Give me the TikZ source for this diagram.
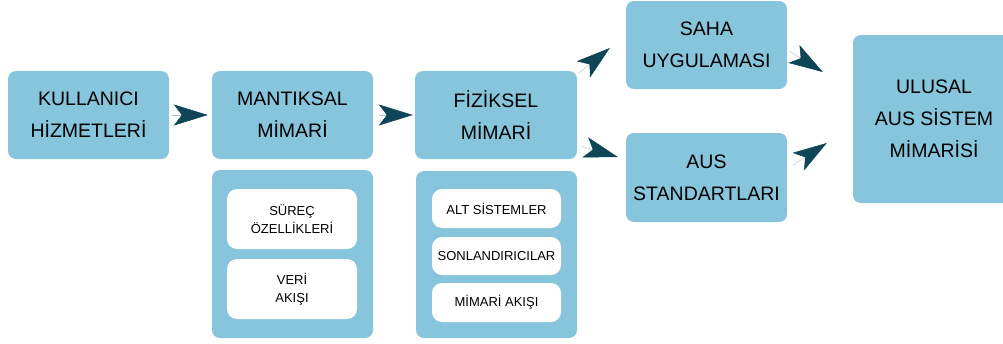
\documentclass[tikz,border=0pt]{standalone}
\usepackage{fontspec}
\setmainfont{Liberation Sans}
\usetikzlibrary{arrows.meta,calc}
\definecolor{boxblue}{HTML}{86C5DB}
\definecolor{arrowteal}{HTML}{0E4658}
\definecolor{shaftgray}{HTML}{B8C4C8}
\tikzset{
  mainbox/.style={fill=boxblue, draw=none, rounded corners=8pt, align=center,
    inner sep=0pt, font=\fontsize{19.5}{32}\selectfont},
  panel/.style={fill=boxblue, draw=none, rounded corners=8pt, inner sep=0pt},
  itembox/.style={fill=white, draw=none, rounded corners=10pt, align=center,
    inner sep=0pt, font=\fontsize{13}{18.3}\selectfont},
  flow/.style={draw=shaftgray, line width=0.5pt,
    -{Stealth[length=34pt, width=21pt, inset=8pt, color=arrowteal]}},
}
\begin{document}
\begin{tikzpicture}[x=1pt, y=-1pt]
  \useasboundingbox (0,0) rectangle (1003,343);

  % top row of process boxes
  \node[mainbox, minimum width=161pt, minimum height=88pt] (kh) at (88.5,115)
    {KULLANICI\\HİZMETLERİ};
  \node[mainbox, minimum width=161pt, minimum height=88pt] (mm) at (292.5,115)
    {MANTIKSAL\\MİMARİ};
  \node[mainbox, minimum width=162pt, minimum height=88pt] (fm) at (496,115)
    {FİZİKSEL\\MİMARİ};

  % panels holding the sub-items
  \node[panel, minimum width=161pt, minimum height=168pt] (lp) at (292.5,254) {};
  \node[panel, minimum width=161pt, minimum height=167pt] (rp) at (496.5,254.5) {};

  \node[itembox, minimum width=130pt, minimum height=60pt] (s1) at (292,219)
    {SÜREÇ\\ÖZELLİKLERİ};
  \node[itembox, minimum width=130pt, minimum height=60pt] (s2) at (292,289)
    {VERİ\\AKIŞI};

  \node[itembox, minimum width=129pt, minimum height=39pt] (r1) at (496.5,208.5)
    {ALT SİSTEMLER};
  \node[itembox, minimum width=129pt, minimum height=38pt] (r2) at (496.5,256)
    {SONLANDIRICILAR};
  \node[itembox, minimum width=129pt, minimum height=39pt] (r3) at (496.5,302.5)
    {MİMARİ AKIŞI};

  % branch boxes and the final system box
  \node[mainbox, minimum width=161pt, minimum height=88pt] (saha) at (706.5,45)
    {SAHA\\UYGULAMASI};
  \node[mainbox, minimum width=161pt, minimum height=89pt] (aus) at (706.5,177.5)
    {AUS\\STANDARTLARI};
  \node[mainbox, minimum width=162pt, minimum height=168pt] (ulusal) at (934,119)
    {ULUSAL\\AUS SİSTEM\\MİMARİSİ};

  % flow arrows
  \draw[flow, shorten <=2pt, shorten >=4pt] (kh.east) -- (mm.west);
  \draw[flow, shorten <=6pt, shorten >=2pt] (mm.east) -- (fm.west);
  \draw[flow] ($(fm.north east)+(2,2)$) -- ($(saha.west)+(-16,3)$);
  \draw[flow] ($(fm.east)+(5,31.5)$) -- ($(aus.west)+(-8,-20.5)$);
  \draw[flow] ($(saha.east)+(2,6)$) -- ($(ulusal.west)+(-30,-47)$);
  \draw[flow] ($(aus.east)+(6,-12.5)$) -- ($(ulusal.west)+(-26,24)$);
\end{tikzpicture}
\end{document}
